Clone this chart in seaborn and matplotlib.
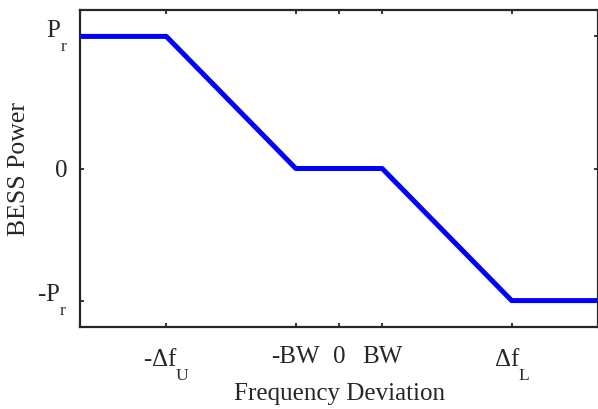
import numpy as np
import pandas as pd
import seaborn as sns
import matplotlib
matplotlib.use("Agg")
import matplotlib.pyplot as plt
import matplotlib._mathtext as mtext

# droop curve: BESS power vs frequency deviation (BW = 1, delta f = 4)
freq_dev = [-6, -4, -1, 1, 4, 6]
bess_power = [1, 1, 0, 0, -1, -1]

x_ticks = [-4, -1, 0, 1, 4]
x_ticklabels = [r"-$\mathrm{\Delta f_U}$", "-BW", "0", "BW", r"$\mathrm{\Delta f_L}$"]
y_ticks = [-1, 0, 1]
y_ticklabels = [r"-$\mathrm{P_r}$", "0", r"$\mathrm{P_r}$"]

sns.set_style("ticks")
plt.rcParams["font.family"] = ["Liberation Serif", "DejaVu Serif"]
plt.rcParams["mathtext.fontset"] = "custom"
plt.rcParams["mathtext.rm"] = "Liberation Serif"
plt.rcParams["mathtext.it"] = "Liberation Serif:italic"
# MATLAB-like subscripts sit lower than mathtext's default
mtext.FontConstantsBase.sub1 = 1.2
mtext.FontConstantsBase.sub2 = 1.2

df = pd.DataFrame({"freq": freq_dev, "power": bess_power})

fig = plt.figure(figsize=(5.98, 4.09), dpi=100, facecolor="w")
ax = fig.add_axes([80 / 598, 1 - 327 / 409, 518 / 598, 317 / 409])
sns.lineplot(data=df, x="freq", y="power", sort=False, color="#0000FF",
             linewidth=3.6, ax=ax)

ax.set_xlim(-6, 6)
ax.set_ylim(-1.2, 1.2)
ax.set_xticks(x_ticks)
ax.set_xticklabels(x_ticklabels)
ax.set_yticks(y_ticks)
ax.set_yticklabels(y_ticklabels)
# labels with a subscript are centred on their whole box, like MATLAB
for lbl in ax.get_yticklabels():
    if "$" in lbl.get_text():
        lbl.set_verticalalignment("center")
ax.tick_params(direction="in", top=True, right=True, length=3, width=1.3,
               labelsize=18, colors="#262626", labelcolor="#262626")
ax.tick_params(axis="x", pad=14)
ax.tick_params(axis="y", pad=9)
for side in ax.spines.values():
    side.set_linewidth(1.6)
    side.set_color("#262626")
    side.set_visible(True)

ax.set_xlabel("Frequency Deviation", fontsize=18, color="#262626")
ax.xaxis.set_label_coords(0.5, -0.177)
ax.set_ylabel("BESS Power", fontsize=18.5, color="#262626", labelpad=5.5)

fig.savefig("out.png", dpi=100)
